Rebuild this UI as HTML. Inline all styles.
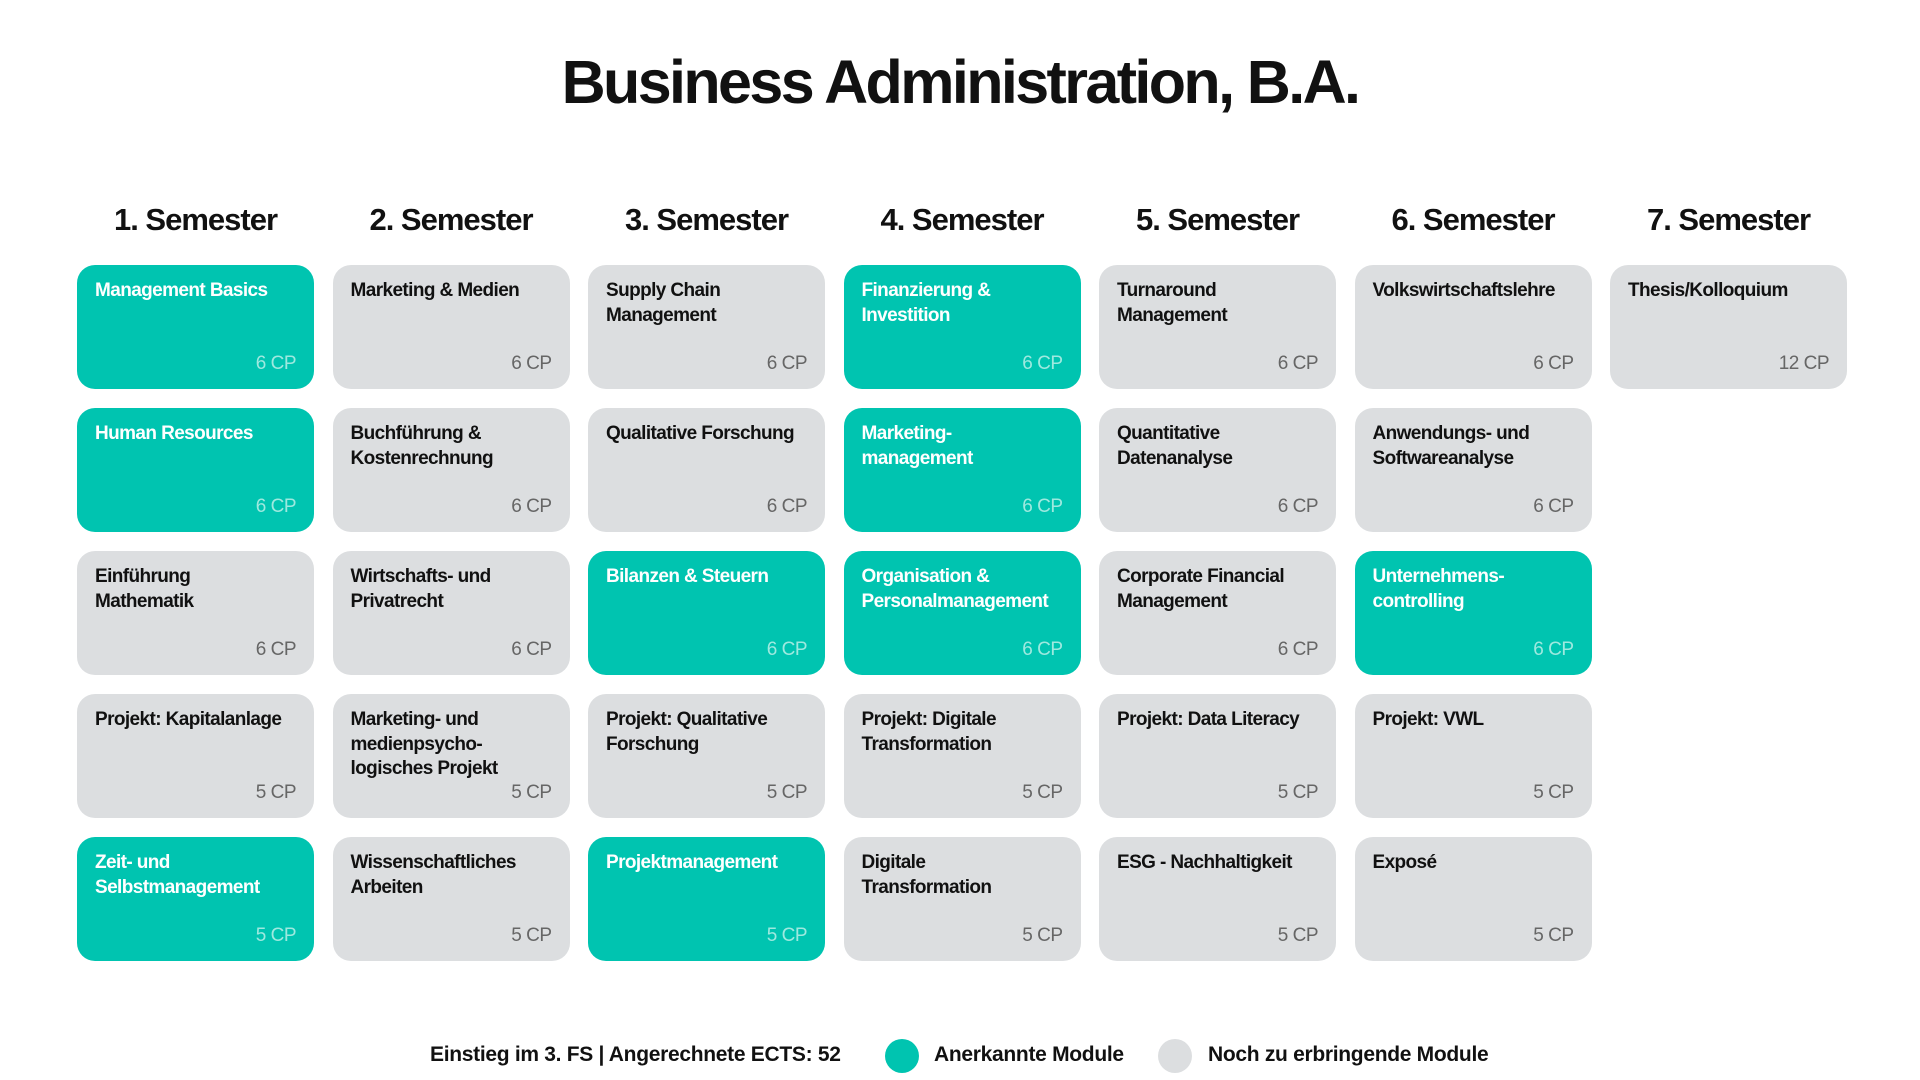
<!DOCTYPE html>
<html><head><meta charset="utf-8"><style>
body{margin:0;width:1920px;height:1080px;background:#fff;font-family:"Liberation Sans",Arial,sans-serif;position:relative;overflow:hidden}
h1{position:absolute;top:47px;left:0;width:1920px;text-align:center;margin:0;font-size:61px;font-weight:bold;letter-spacing:-2.6px;color:#111}
.sem{position:absolute;top:202px;width:237px;text-align:center;font-size:31px;font-weight:bold;letter-spacing:-1px;color:#111}
.c{position:absolute;width:237px;height:124px;border-radius:18px;background:#dcdee0;box-sizing:border-box}
.c.t{background:#00c4b0}
.c .n{position:absolute;left:18px;top:14px;right:10px;font-size:19px;font-weight:bold;line-height:24.5px;letter-spacing:-0.6px;color:#111}
.c.t .n{color:#fff}
.c .p{position:absolute;right:18px;bottom:14px;font-size:19px;color:#666;letter-spacing:-0.5px}
.c.t .p{color:#9ee9df}
.lg{position:absolute;top:1043px;font-size:21px;font-weight:bold;letter-spacing:-0.3px;color:#111}
.dot{position:absolute;top:1039px;width:34px;height:34px;border-radius:50%}
</style></head><body>
<h1>Business Administration, B.A.</h1>
<div class="sem" style="left:77px">1. Semester</div>
<div class="sem" style="left:332.5px">2. Semester</div>
<div class="sem" style="left:588px">3. Semester</div>
<div class="sem" style="left:843.5px">4. Semester</div>
<div class="sem" style="left:1099px">5. Semester</div>
<div class="sem" style="left:1354.5px">6. Semester</div>
<div class="sem" style="left:1610px">7. Semester</div>

<div class="c t" style="left:77px;top:265px"><div class="n">Management Basics</div><div class="p">6 CP</div></div>
<div class="c t" style="left:77px;top:408px"><div class="n">Human Resources</div><div class="p">6 CP</div></div>
<div class="c" style="left:77px;top:551px"><div class="n">Einführung<br>Mathematik</div><div class="p">6 CP</div></div>
<div class="c" style="left:77px;top:694px"><div class="n">Projekt: Kapitalanlage</div><div class="p">5 CP</div></div>
<div class="c t" style="left:77px;top:837px"><div class="n">Zeit- und<br>Selbstmanagement</div><div class="p">5 CP</div></div>

<div class="c" style="left:332.5px;top:265px"><div class="n">Marketing &amp; Medien</div><div class="p">6 CP</div></div>
<div class="c" style="left:332.5px;top:408px"><div class="n">Buchführung &amp;<br>Kostenrechnung</div><div class="p">6 CP</div></div>
<div class="c" style="left:332.5px;top:551px"><div class="n">Wirtschafts- und<br>Privatrecht</div><div class="p">6 CP</div></div>
<div class="c" style="left:332.5px;top:694px"><div class="n">Marketing- und<br>medienpsycho-<br>logisches Projekt</div><div class="p">5 CP</div></div>
<div class="c" style="left:332.5px;top:837px"><div class="n">Wissenschaftliches<br>Arbeiten</div><div class="p">5 CP</div></div>

<div class="c" style="left:588px;top:265px"><div class="n">Supply Chain<br>Management</div><div class="p">6 CP</div></div>
<div class="c" style="left:588px;top:408px"><div class="n">Qualitative Forschung</div><div class="p">6 CP</div></div>
<div class="c t" style="left:588px;top:551px"><div class="n">Bilanzen &amp; Steuern</div><div class="p">6 CP</div></div>
<div class="c" style="left:588px;top:694px"><div class="n">Projekt: Qualitative<br>Forschung</div><div class="p">5 CP</div></div>
<div class="c t" style="left:588px;top:837px"><div class="n">Projektmanagement</div><div class="p">5 CP</div></div>

<div class="c t" style="left:843.5px;top:265px"><div class="n">Finanzierung &amp;<br>Investition</div><div class="p">6 CP</div></div>
<div class="c t" style="left:843.5px;top:408px"><div class="n">Marketing-<br>management</div><div class="p">6 CP</div></div>
<div class="c t" style="left:843.5px;top:551px"><div class="n">Organisation &amp;<br>Personalmanagement</div><div class="p">6 CP</div></div>
<div class="c" style="left:843.5px;top:694px"><div class="n">Projekt: Digitale<br>Transformation</div><div class="p">5 CP</div></div>
<div class="c" style="left:843.5px;top:837px"><div class="n">Digitale<br>Transformation</div><div class="p">5 CP</div></div>

<div class="c" style="left:1099px;top:265px"><div class="n">Turnaround<br>Management</div><div class="p">6 CP</div></div>
<div class="c" style="left:1099px;top:408px"><div class="n">Quantitative<br>Datenanalyse</div><div class="p">6 CP</div></div>
<div class="c" style="left:1099px;top:551px"><div class="n">Corporate Financial<br>Management</div><div class="p">6 CP</div></div>
<div class="c" style="left:1099px;top:694px"><div class="n">Projekt: Data Literacy</div><div class="p">5 CP</div></div>
<div class="c" style="left:1099px;top:837px"><div class="n">ESG - Nachhaltigkeit</div><div class="p">5 CP</div></div>

<div class="c" style="left:1354.5px;top:265px"><div class="n">Volkswirtschaftslehre</div><div class="p">6 CP</div></div>
<div class="c" style="left:1354.5px;top:408px"><div class="n">Anwendungs- und<br>Softwareanalyse</div><div class="p">6 CP</div></div>
<div class="c t" style="left:1354.5px;top:551px"><div class="n">Unternehmens-<br>controlling</div><div class="p">6 CP</div></div>
<div class="c" style="left:1354.5px;top:694px"><div class="n">Projekt: VWL</div><div class="p">5 CP</div></div>
<div class="c" style="left:1354.5px;top:837px"><div class="n">Exposé</div><div class="p">5 CP</div></div>

<div class="c" style="left:1610px;top:265px"><div class="n">Thesis/Kolloquium</div><div class="p">12 CP</div></div>

<div class="lg" style="left:430px">Einstieg im 3. FS | Angerechnete ECTS: 52</div>
<div class="dot" style="left:885px;background:#00c4b0"></div>
<div class="lg" style="left:934px">Anerkannte Module</div>
<div class="dot" style="left:1158px;background:#dcdee0"></div>
<div class="lg" style="left:1208px">Noch zu erbringende Module</div>
</body></html>
